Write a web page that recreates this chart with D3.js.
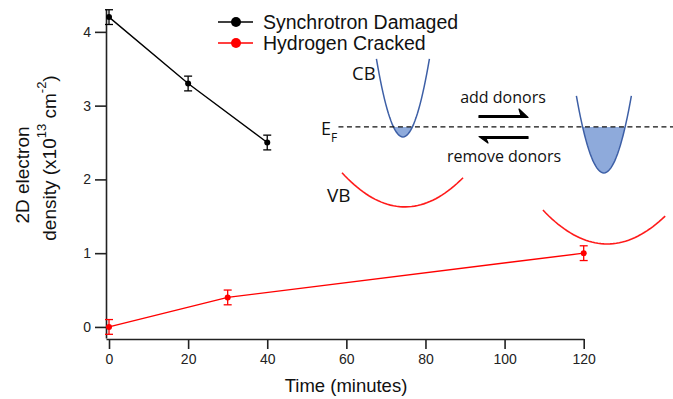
<!DOCTYPE html>
<html><head><meta charset="utf-8">
<script src="https://cdn.jsdelivr.net/npm/d3@7"></script>
<style>
body{margin:0;background:#fff;}
svg{display:block;font-family:"Liberation Sans",Arial,sans-serif;}
</style></head>
<body>
<svg id="c" width="673" height="399"></svg>
<script>
// ---- data ----
const seriesNames = ["Synchrotron Damaged", "Hydrogen Cracked"];
const seriesColors = ["#000000", "#ff0000"];
const syncTime = [0, 20, 40];
const syncValue = [4.2, 3.3, 2.5];
const syncErr = [0.1, 0.1, 0.1];
const hydTime = [0, 30, 120];
const hydValue = [0, 0.4, 1.0];
const hydErr = [0.1, 0.1, 0.1];
const xTicks = [0, 20, 40, 60, 80, 100, 120];
const yTicks = [0, 1, 2, 3, 4];
// inset band diagram (data units): [vertexX, vertexY, leftX, rightX, curvature]
const cbBands = [[74.3, 2.576, 67.6, 81.0, 0.0236], [125.1, 2.088, 118.15, 132.05, 0.0216]];
const vbBands = [[74.8, 1.627, 58.9, 89.5, 0.00183], [125.9, 1.125, 109.7, 140.6, 0.00175]];
const fermiLevel = 2.712;
const fermiRange = [58.0, 142.6];

const svg = d3.select("#c");
const x = d3.scaleLinear().domain([-0.76, 120]).range([106, 583.7]);
const y = d3.scaleLinear().domain([-0.15, 4.31]).range([338, 9]);

// axes
const xAxis = svg.append("g").attr("transform", "translate(0,339)")
  .call(d3.axisBottom(x).tickValues(xTicks).tickFormat(d3.format("d")).tickSize(10).tickSizeOuter(0).tickPadding(5));
const yAxis = svg.append("g").attr("transform", "translate(106,0)")
  .call(d3.axisLeft(y).tickValues(yTicks).tickFormat(d3.format("d")).tickSize(11).tickSizeOuter(0).tickPadding(4));
[xAxis, yAxis].forEach(a => {
  a.selectAll("path,line").attr("stroke", "#222").attr("stroke-width", 1.6);
  a.selectAll("text").attr("font-size", 14).attr("fill", "#222")
    .attr("font-family", "Liberation Sans, Arial, sans-serif");
});

svg.append("text").attr("x", 346).attr("y", 392).attr("text-anchor", "middle")
  .attr("font-size", 18.5).attr("fill", "#111").text("Time (minutes)");

// y label (two lines, rotated)
svg.append("text").attr("transform", "translate(29,175) rotate(-90)")
  .attr("text-anchor", "middle").attr("font-size", 19).attr("fill", "#111").text("2D electron");
const yl2 = svg.append("text").attr("transform", "translate(56,158) rotate(-90)")
  .attr("text-anchor", "middle").attr("font-size", 19).attr("fill", "#111");
yl2.append("tspan").text("density (x10");
yl2.append("tspan").attr("font-size", 13).attr("dy", -10).text("13");
yl2.append("tspan").attr("dy", 10).text(" cm");
yl2.append("tspan").attr("font-size", 13).attr("dy", -10).text("-2");
yl2.append("tspan").attr("dy", 10).text(")");

// series
function drawSeries(ts, vs, es, color) {
  const pts = ts.map((t, i) => ({t, v: vs[i], e: es[i]}));
  svg.append("path").datum(pts)
    .attr("d", d3.line().x(d => x(d.t)).y(d => y(d.v)))
    .attr("fill", "none").attr("stroke", color).attr("stroke-width", 1.4);
  const g = svg.append("g").attr("stroke", color).attr("stroke-width", 1.3);
  pts.forEach(d => {
    g.append("line").attr("x1", x(d.t)).attr("x2", x(d.t)).attr("y1", y(d.v - d.e)).attr("y2", y(d.v + d.e));
    [d.v - d.e, d.v + d.e].forEach(v => g.append("line")
      .attr("x1", x(d.t) - 4).attr("x2", x(d.t) + 4).attr("y1", y(v)).attr("y2", y(v)));
  });
  svg.append("g").selectAll("circle").data(pts).join("circle")
    .attr("cx", d => x(d.t)).attr("cy", d => y(d.v)).attr("r", 3).attr("fill", color);
}
drawSeries(syncTime, syncValue, syncErr, seriesColors[0]);
drawSeries(hydTime, hydValue, hydErr, seriesColors[1]);

// legend
seriesNames.forEach((n, i) => {
  const ly = 22 + i * 21;
  svg.append("line").attr("x1", 218).attr("x2", 253).attr("y1", ly).attr("y2", ly)
    .attr("stroke", seriesColors[i]).attr("stroke-width", 1.5);
  svg.append("circle").attr("cx", 236).attr("cy", ly).attr("r", 5).attr("fill", seriesColors[i]);
  svg.append("text").attr("x", 263).attr("y", ly + 7).attr("font-size", 19.5).attr("fill", "#111").text(n);
});

// inset band diagram
const parab = (b, lo, hi) => d3.range(0, 41).map(k => {
  const xx = lo + (hi - lo) * k / 40;
  return [xx, b[1] + b[4] * (xx - b[0]) ** 2];
});
const lineGen = d3.line().x(d => x(d[0])).y(d => y(d[1]));
cbBands.forEach(b => {
  const half = Math.sqrt((fermiLevel - b[1]) / b[4]);
  svg.append("path").attr("d", lineGen(parab(b, b[0] - half, b[0] + half)) + "Z")
    .attr("fill", "#8eaadb").attr("stroke", "none");
  svg.append("path").attr("d", lineGen(parab(b, b[2], b[3])))
    .attr("fill", "none").attr("stroke", "#3d5fa6").attr("stroke-width", 1.5);
});
vbBands.forEach(b => {
  svg.append("path").attr("d", lineGen(parab(b, b[2], b[3])))
    .attr("fill", "none").attr("stroke", "#ff1a1a").attr("stroke-width", 1.6);
});
svg.append("line").attr("x1", x(fermiRange[0])).attr("x2", x(fermiRange[1]))
  .attr("y1", y(fermiLevel)).attr("y2", y(fermiLevel))
  .attr("stroke", "#111").attr("stroke-width", 1.3).attr("stroke-dasharray", "5,3.5");

const insetFont = "'Open Sans', sans-serif";
svg.append("text").attr("x", 352).attr("y", 80).attr("font-size", 18.5).attr("font-family", insetFont).attr("fill", "#111").text("CB");
svg.append("text").attr("x", 327).attr("y", 202).attr("font-size", 19).attr("font-family", insetFont).attr("fill", "#111").text("VB");
const ef = svg.append("text").attr("x", 321).attr("y", 135).attr("font-size", 18).attr("font-family", insetFont).attr("fill", "#111");
ef.append("tspan").text("E");
ef.append("tspan").attr("font-size", 12).attr("dy", 7).text("F");
svg.append("text").attr("x", 503).attr("y", 103).attr("text-anchor", "middle").attr("font-size", 16).attr("font-family", insetFont).attr("fill", "#111").text("add donors");
svg.append("text").attr("x", 504).attr("y", 162).attr("text-anchor", "middle").attr("font-size", 16).attr("font-family", insetFont).attr("fill", "#111").text("remove donors");

// harpoons
svg.append("path").attr("d", "M479,115.5 L521,115.5 L519,109 L528,117.5 L479,117.5 Z").attr("fill", "#000")
  .attr("stroke", "#000").attr("stroke-width", 1.2).attr("stroke-linejoin", "round");
svg.append("path").attr("d", "M528,136.5 L479,136.5 L488,143 L486,138.5 L528,138.5 Z").attr("fill", "#000")
  .attr("stroke", "#000").attr("stroke-width", 1.2).attr("stroke-linejoin", "round");
</script>
</body></html>
